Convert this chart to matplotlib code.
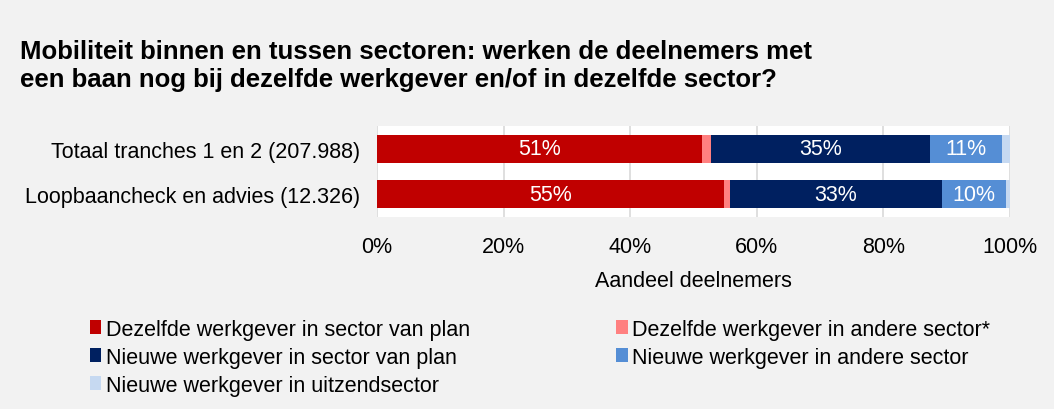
import numpy as np
import matplotlib
matplotlib.use("Agg")
import matplotlib.pyplot as plt
from matplotlib.patches import Patch

plt.rcParams['font.family'] = ['Liberation Sans', 'DejaVu Sans']

# Data (share of participants, %)
categories = ["Totaal tranches 1 en 2 (207.988)", "Loopbaancheck en advies (12.326)"]
series_names = [
    "Dezelfde werkgever in sector van plan",
    "Dezelfde werkgever in andere sector*",
    "Nieuwe werkgever in sector van plan",
    "Nieuwe werkgever in andere sector",
    "Nieuwe werkgever in uitzendsector",
]
zelfde_plan = [51.4, 54.8]
zelfde_ander = [1.3, 1.0]
nieuw_plan = [34.7, 33.4]
nieuw_ander = [11.3, 10.2]
nieuw_uitzend = [1.3, 0.6]
colors = ["#C00000", "#FF8080", "#002060", "#558ED5", "#C6D9F1"]
xticks = [0, 20, 40, 60, 80, 100]

values = [zelfde_plan, zelfde_ander, nieuw_plan, nieuw_ander, nieuw_uitzend]

W, H = 1054, 410
fig = plt.figure(figsize=(W / 100, H / 100), dpi=100, facecolor="#F2F2F2")

fig.text(20 / W, 1 - 40 / H,
         "Mobiliteit binnen en tussen sectoren: werken de deelnemers met\n"
         "een baan nog bij dezelfde werkgever en/of in dezelfde sector?",
         fontsize=18.5, fontweight="bold", va="top", ha="left", linespacing=1.2)

ax = fig.add_axes([377 / W, 1 - 218 / H, 633 / W, 91 / H])
ax.set_facecolor("white")

ypos = np.arange(len(categories))[::-1]
left = np.zeros(len(categories))
handles = []
for name, vals, col in zip(series_names, values, colors):
    vals = np.array(vals)
    ax.barh(ypos, vals, left=left, height=0.64, color=col, edgecolor="none", zorder=3)
    for y, l, v in zip(ypos, left, vals):
        if v > 5:
            ax.text(l + v / 2, y, f"{v:.0f}%", ha="center", va="center",
                    color="white", fontsize=15.5, zorder=4)
    left += vals
    handles.append(Patch(facecolor=col, edgecolor="none", label=name))

ax.set_xlim(0, 100)
ax.set_ylim(-0.51, 1.51)
ax.set_xticks(xticks)
ax.set_xticklabels([f"{t}%" for t in xticks], fontsize=15.5)
ax.set_yticks(ypos)
ax.set_yticklabels(categories, fontsize=15.5)
ax.tick_params(length=0)
ax.tick_params(axis="y", pad=12)
ax.tick_params(axis="x", pad=14)
ax.grid(axis="x", color="#D9D9D9", linewidth=1.2, zorder=0)
for s in ax.spines.values():
    s.set_visible(False)
ax.set_xlabel("Aandeel deelnemers", fontsize=15.5, labelpad=9)

order = [0, 2, 4, 1, 3]
fig.legend([handles[i] for i in order], [series_names[i] for i in order],
           ncol=2, loc="upper left", bbox_to_anchor=(81 / W, 1 - 311 / H),
           frameon=False, fontsize=15.5, handlelength=0.55, handleheight=0.65,
           handletextpad=0.2, columnspacing=6.8, labelspacing=0.33,
           borderaxespad=0)

fig.savefig("out.png", dpi=100, facecolor=fig.get_facecolor())
